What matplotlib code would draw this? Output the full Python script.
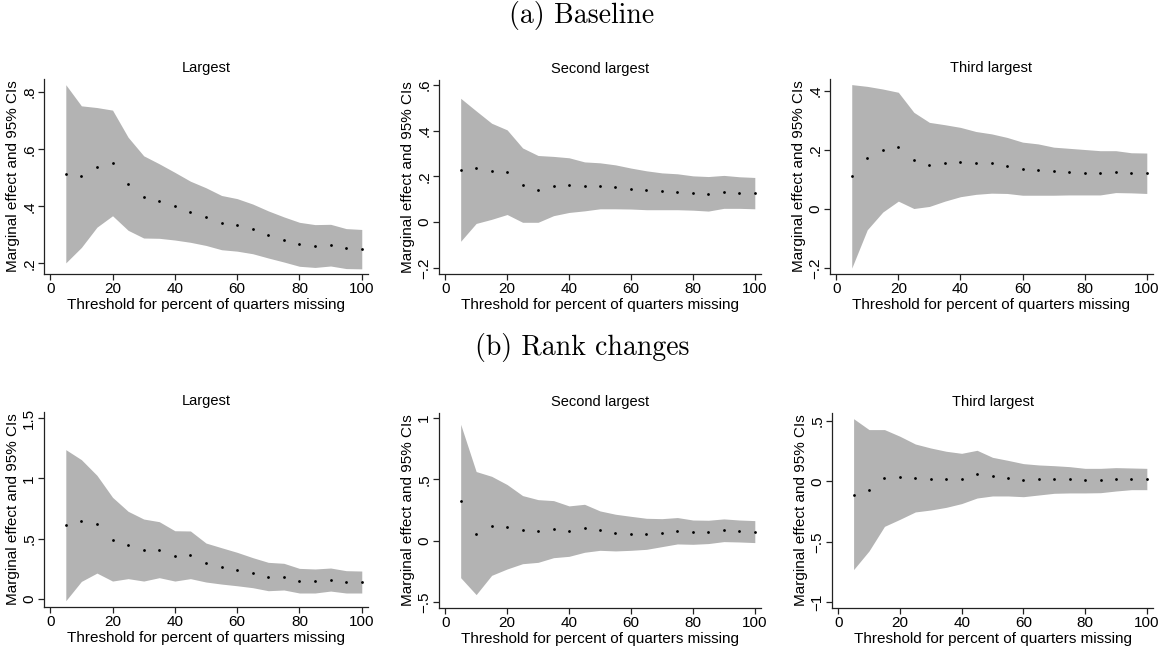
import numpy as np
import matplotlib
matplotlib.use("Agg")
import matplotlib.pyplot as plt
from matplotlib.ticker import FuncFormatter

# thresholds (percent of quarters missing)
thresholds = [5, 10, 15, 20, 25, 30, 35, 40, 45, 50, 55, 60, 65, 70, 75, 80, 85, 90, 95, 100]

# (a) Baseline
base_largest_est = [0.513, 0.506, 0.538, 0.552, 0.478, 0.432, 0.419, 0.401, 0.380, 0.364,
                    0.343, 0.335, 0.319, 0.298, 0.282, 0.267, 0.260, 0.264, 0.253, 0.249]
base_largest_hi = [0.826, 0.752, 0.746, 0.737, 0.642, 0.577, 0.549, 0.519, 0.488, 0.465,
                   0.438, 0.427, 0.408, 0.384, 0.363, 0.344, 0.336, 0.337, 0.322, 0.319]
base_largest_lo = [0.202, 0.256, 0.327, 0.367, 0.316, 0.289, 0.288, 0.282, 0.274, 0.263,
                   0.248, 0.243, 0.234, 0.219, 0.205, 0.190, 0.186, 0.191, 0.182, 0.181]

base_second_est = [0.228, 0.237, 0.223, 0.218, 0.161, 0.141, 0.157, 0.161, 0.157, 0.159,
                   0.154, 0.145, 0.138, 0.134, 0.131, 0.127, 0.124, 0.131, 0.127, 0.125]
base_second_hi = [0.541, 0.486, 0.432, 0.403, 0.324, 0.291, 0.287, 0.281, 0.263, 0.259,
                  0.250, 0.236, 0.224, 0.215, 0.211, 0.202, 0.199, 0.204, 0.198, 0.195]
base_second_lo = [-0.084, -0.006, 0.012, 0.033, -0.001, -0.001, 0.028, 0.042, 0.049, 0.058,
                  0.058, 0.057, 0.054, 0.054, 0.054, 0.052, 0.048, 0.060, 0.060, 0.058]

base_third_est = [0.110, 0.171, 0.198, 0.211, 0.164, 0.149, 0.154, 0.157, 0.154, 0.154,
                  0.146, 0.136, 0.133, 0.128, 0.125, 0.123, 0.121, 0.125, 0.122, 0.120]
base_third_hi = [0.421, 0.415, 0.406, 0.395, 0.327, 0.293, 0.285, 0.276, 0.262, 0.254,
                 0.242, 0.226, 0.220, 0.209, 0.205, 0.201, 0.197, 0.197, 0.190, 0.189]
base_third_lo = [-0.201, -0.071, -0.011, 0.026, 0.001, 0.008, 0.026, 0.041, 0.049, 0.053,
                 0.052, 0.046, 0.046, 0.046, 0.047, 0.047, 0.047, 0.055, 0.054, 0.052]

# (b) Rank changes
rank_largest_est = [0.610, 0.644, 0.619, 0.492, 0.448, 0.403, 0.409, 0.359, 0.365, 0.298,
                    0.268, 0.243, 0.218, 0.182, 0.185, 0.152, 0.152, 0.160, 0.144, 0.141]
rank_largest_hi = [1.238, 1.155, 1.025, 0.843, 0.727, 0.663, 0.641, 0.566, 0.564, 0.464,
                   0.425, 0.387, 0.343, 0.304, 0.296, 0.254, 0.249, 0.257, 0.235, 0.232]
rank_largest_lo = [-0.014, 0.146, 0.215, 0.149, 0.169, 0.149, 0.177, 0.149, 0.169, 0.141,
                   0.124, 0.110, 0.094, 0.069, 0.075, 0.050, 0.050, 0.066, 0.050, 0.050]

rank_second_est = [0.323, 0.057, 0.122, 0.109, 0.090, 0.076, 0.098, 0.079, 0.103, 0.084,
                   0.065, 0.057, 0.052, 0.065, 0.082, 0.068, 0.068, 0.084, 0.076, 0.071]
rank_second_hi = [0.948, 0.563, 0.524, 0.457, 0.367, 0.334, 0.326, 0.283, 0.296, 0.242,
                  0.215, 0.198, 0.182, 0.179, 0.188, 0.168, 0.166, 0.177, 0.168, 0.163]
rank_second_lo = [-0.302, -0.440, -0.283, -0.231, -0.188, -0.177, -0.139, -0.128, -0.095, -0.079,
                  -0.084, -0.079, -0.071, -0.049, -0.027, -0.030, -0.024, -0.008, -0.011, -0.016]

rank_third_est = [-0.110, -0.072, 0.025, 0.033, 0.030, 0.019, 0.017, 0.022, 0.061, 0.041,
                  0.028, 0.014, 0.017, 0.019, 0.019, 0.011, 0.011, 0.022, 0.022, 0.022]
rank_third_hi = [0.517, 0.427, 0.427, 0.372, 0.308, 0.275, 0.248, 0.231, 0.256, 0.198,
                 0.173, 0.146, 0.135, 0.129, 0.121, 0.107, 0.107, 0.113, 0.110, 0.107]
rank_third_lo = [-0.729, -0.575, -0.372, -0.314, -0.253, -0.237, -0.215, -0.184, -0.138, -0.121,
                 -0.121, -0.127, -0.113, -0.099, -0.096, -0.096, -0.094, -0.080, -0.069, -0.069]

panel_titles = ["Largest", "Second largest", "Third largest"]
section_titles = ["(a) Baseline", "(b) Rank changes"]

W, H = 1164, 650
fig = plt.figure(figsize=(W / 100, H / 100), dpi=100)
plt.rcParams["font.family"] = ["Liberation Sans", "DejaVu Sans"]


def stata_fmt(v, pos=None):
    if abs(v) < 1e-9:
        return "0"
    s = f"{abs(v):g}"
    if s.startswith("0."):
        s = s[1:]
    return ("\u2212" if v < 0 else "") + s


def px_axes(x0, y0, x1, y1):
    # pixel box (left, top, right, bottom) -> figure fraction
    return fig.add_axes([x0 / W, 1 - y1 / H, (x1 - x0) / W, (y1 - y0) / H])


panels = [
    (base_largest_est, base_largest_hi, base_largest_lo, [0.2, 0.4, 0.6, 0.8], (0.163, 0.846), (44, 79, 368, 274)),
    (base_second_est, base_second_hi, base_second_lo, [-0.2, 0, 0.2, 0.4, 0.6], (-0.227, 0.621), (439, 80, 761, 274)),
    (base_third_est, base_third_hi, base_third_lo, [-0.2, 0, 0.2, 0.4], (-0.221, 0.44), (830, 79, 1153, 274)),
    (rank_largest_est, rank_largest_hi, rank_largest_lo, [0, 0.5, 1, 1.5], (-0.066, 1.55), (44, 412, 368, 607)),
    (rank_second_est, rank_second_hi, rank_second_lo, [-0.5, 0, 0.5, 1], (-0.549, 1.04), (439, 413, 761, 608)),
    (rank_third_est, rank_third_hi, rank_third_lo, [-1, -0.5, 0, 0.5], (-1.046, 0.564), (832, 413, 1153, 608)),
]

for i, (est, hi, lo, yt, ylim, box) in enumerate(panels):
    ax = px_axes(*box)
    ax.fill_between(thresholds, lo, hi, color="#b3b3b3", linewidth=0)
    ax.scatter(thresholds, est, s=4, color="black", zorder=3, linewidths=0)
    ax.set_xlim(-2, 102)
    ax.set_ylim(*ylim)
    ax.set_xticks([0, 20, 40, 60, 80, 100])
    ax.set_yticks(yt)
    ax.yaxis.set_major_formatter(FuncFormatter(stata_fmt))
    for sp in ["top", "right"]:
        ax.spines[sp].set_visible(False)
    for sp in ["left", "bottom"]:
        ax.spines[sp].set_linewidth(0.9)
        ax.spines[sp].set_color("#222222")
    ax.tick_params(axis="both", direction="out", length=4, width=0.9, labelsize=11, colors="#222222",
                   labelcolor="black", pad=1.5)
    for lab in ax.get_yticklabels():
        lab.set_rotation(90)
        lab.set_va("center")
    ax.set_xlabel("Threshold for percent of quarters missing", fontsize=11, labelpad=2)
    ax.set_ylabel("Marginal effect and 95% CIs", fontsize=11, labelpad=2)
    ax.set_title(panel_titles[i % 3], fontsize=10.5, pad=5)

fig.text(0.5, 1 - 16 / H, section_titles[0], ha="center", va="center", fontsize=20, family="cmr10")
fig.text(0.5, 1 - 347 / H, section_titles[1], ha="center", va="center", fontsize=20, family="cmr10")

fig.savefig("out.png", dpi=100)
